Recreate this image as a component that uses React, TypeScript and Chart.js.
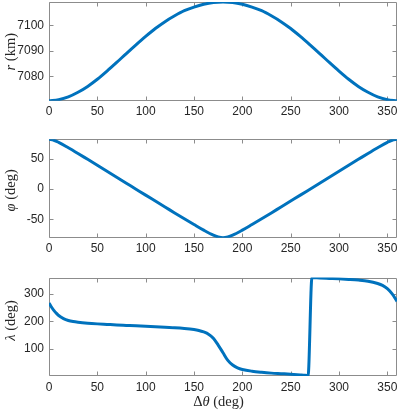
import React, { useEffect, useRef } from 'react';
import { Chart, registerables } from 'chart.js';

Chart.register(...registerables);

// ---------- data ----------
const thetaR = [0, 10, 20, 30, 40, 50, 60, 70, 80, 90, 100, 110, 120, 130, 140, 150, 160, 170, 180,
  190, 200, 210, 220, 230, 240, 250, 260, 270, 280, 290, 300, 310, 320, 330, 340, 350, 360];
const radius = [7070.4, 7070.8, 7071.9, 7073.7, 7076.0, 7078.8, 7082.0, 7085.4, 7088.9, 7092.3, 7095.6,
  7098.7, 7101.4, 7103.7, 7105.7, 7107.1, 7108.2, 7108.9, 7109.1, 7108.9, 7108.2, 7107.1, 7105.7, 7103.7,
  7101.4, 7098.7, 7095.6, 7092.3, 7088.9, 7085.4, 7082.0, 7078.8, 7076.0, 7073.7, 7071.9, 7070.8, 7070.4];

const thetaLat = [0, 5, 10, 20, 30, 40, 50, 60, 70, 80, 90, 100, 110, 120, 130, 140, 150, 160, 170, 175, 180,
  185, 190, 200, 210, 220, 230, 240, 250, 260, 270, 280, 290, 300, 310, 320, 330, 340, 350, 355, 360];
const latitude = [82.6, 81.1, 77.6, 68.7, 59.2, 49.4, 39.6, 29.7, 19.8, 9.9, 0, -9.9, -19.7, -29.5, -39.4,
  -49.1, -58.6, -67.9, -76.2, -79.1, -80.4, -79.1, -76.2, -67.9, -58.6, -49.1, -39.4, -29.5, -19.7, -9.9,
  0, 9.9, 19.8, 29.7, 39.6, 49.4, 59.2, 68.7, 77.6, 81.1, 82.6];

const thetaLon = [0, 2, 5, 8, 10, 15, 20, 25, 30, 40, 50, 60, 70, 80, 90, 100, 110, 120, 130, 140, 150,
  155, 160, 165, 170, 175, 180, 185, 190, 195, 200, 210, 220, 230, 240, 250, 260, 265, 268, 272, 280,
  290, 300, 310, 320, 330, 340, 345, 350, 355, 360];
const longitude = [267, 255, 240, 228, 221, 210, 203, 199, 196.5, 193, 190.5, 188.5, 186.5, 185, 183.5,
  181.5, 180, 178, 176.5, 174, 170, 166.5, 161, 153, 138, 113, 85, 57, 40, 30, 24, 17.5, 13.5, 10.5, 8.5,
  6.5, 4, 2.5, 1, 359.5, 358, 356.5, 355, 353, 350.5, 346.5, 338, 331, 319, 300, 273];

const xTicks = [0, 50, 100, 150, 200, 250, 300, 350];
const rTicks = [7080, 7090, 7100];
const latTicks = [-50, 0, 50];
const lonTicks = [100, 200, 300];

// ---------- styles ----------
const BLUE = '#0072BD';
const AXIS = '#8c8c8c';
const TEXT = '#262626';
const SANS = "'Liberation Sans', Arial, Helvetica, sans-serif";
const SERIF = "'Liberation Serif', 'Times New Roman', serif";
const W = 399;
const TICK_SIZE = 12;
const TITLE_SIZE = 14.5;

type Part = { text: string; italic?: boolean };

function drawRich(ctx: CanvasRenderingContext2D, parts: Part[], cx: number, cy: number, rotate: boolean, size: number) {
  ctx.save();
  ctx.translate(cx, cy);
  if (rotate) ctx.rotate(-Math.PI / 2);
  ctx.textBaseline = 'middle';
  ctx.textAlign = 'left';
  ctx.fillStyle = TEXT;
  const fonts = parts.map((p) => `${p.italic ? 'italic ' : ''}${size}px ${SERIF}`);
  const widths = parts.map((p, i) => {
    ctx.font = fonts[i];
    return ctx.measureText(p.text).width;
  });
  const total = widths.reduce((a, b) => a + b, 0);
  let x = -total / 2;
  parts.forEach((p, i) => {
    ctx.font = fonts[i];
    ctx.fillText(p.text, x, 0);
    x += widths[i];
  });
  ctx.restore();
}

const framePlugin = {
  id: 'matlabFrame',
  beforeDatasetsDraw(chart: any) {
    const { ctx, chartArea } = chart;
    const l = Math.round(chartArea.left) + 0.5;
    const r = Math.round(chartArea.right) - 0.5;
    const t = Math.round(chartArea.top) + 0.5;
    const b = Math.round(chartArea.bottom) - 0.5;
    const tl = 4;
    ctx.save();
    ctx.strokeStyle = AXIS;
    ctx.lineWidth = 1;
    ctx.beginPath();
    ctx.rect(l, t, r - l, b - t);
    const xs = chart.scales.x;
    for (const tk of xs.ticks) {
      const px = Math.round(xs.getPixelForValue(tk.value)) + 0.5;
      ctx.moveTo(px, b);
      ctx.lineTo(px, b - tl);
      ctx.moveTo(px, t);
      ctx.lineTo(px, t + tl);
    }
    const ys = chart.scales.y;
    for (const tk of ys.ticks) {
      const py = Math.round(ys.getPixelForValue(tk.value)) + 0.5;
      ctx.moveTo(l, py);
      ctx.lineTo(l + tl, py);
      ctx.moveTo(r, py);
      ctx.lineTo(r - tl, py);
    }
    ctx.stroke();
    ctx.restore();
  },
};

type PanelProps = {
  top: number;
  height: number;
  areaTop: number;
  areaBottom: number;
  xs: number[];
  ys: number[];
  yMin: number;
  yMax: number;
  yTicks: number[];
  yTitle: Part[];
  yTitleCy: number;
  xTitle?: Part[];
  xTitleCx?: number;
  xTitleCy?: number;
};

function Panel(props: PanelProps) {
  const ref = useRef<HTMLCanvasElement | null>(null);
  useEffect(() => {
    const canvas = ref.current;
    if (!canvas) return;
    const p = props;
    const titlePlugin = {
      id: 'richTitles',
      afterDraw(chart: any) {
        const ctx = chart.ctx;
        drawRich(ctx, p.yTitle, 11, p.yTitleCy, true, TITLE_SIZE);
        if (p.xTitle) drawRich(ctx, p.xTitle, p.xTitleCx as number, p.xTitleCy as number, false, TITLE_SIZE);
      },
    };
    const chart = new Chart(canvas, {
      type: 'line',
      data: {
        datasets: [
          {
            data: p.xs.map((x, i) => ({ x, y: p.ys[i] })),
            borderColor: BLUE,
            backgroundColor: BLUE,
            borderWidth: 3,
            pointRadius: 0,
            fill: false,
            cubicInterpolationMode: 'monotone',
          },
        ],
      },
      options: {
        responsive: false,
        animation: false,
        events: [],
        layout: { padding: { top: p.areaTop, right: 2, left: 0, bottom: 0 } },
        plugins: { legend: { display: false }, tooltip: { enabled: false } },
        scales: {
          x: {
            type: 'linear',
            min: 0,
            max: 360,
            grid: { display: false, drawTicks: false },
            border: { display: false },
            ticks: {
              padding: 4,
              color: TEXT,
              font: { family: SANS, size: TICK_SIZE },
              maxRotation: 0,
              autoSkip: false,
              callback: (v: any) => String(v),
            },
            afterBuildTicks: (s: any) => {
              s.ticks = xTicks.map((v) => ({ value: v }));
            },
            afterFit: (s: any) => {
              s.height = p.height - p.areaBottom;
              s.paddingLeft = 0;
              s.paddingRight = 0;
            },
          },
          y: {
            type: 'linear',
            min: p.yMin,
            max: p.yMax,
            grid: { display: false, drawTicks: false },
            border: { display: false },
            ticks: {
              padding: 5,
              color: TEXT,
              font: { family: SANS, size: TICK_SIZE },
              autoSkip: false,
              callback: (v: any) => String(v),
            },
            afterBuildTicks: (s: any) => {
              s.ticks = p.yTicks.map((v) => ({ value: v }));
            },
            afterFit: (s: any) => {
              s.width = 49;
              s.paddingTop = 0;
              s.paddingBottom = 0;
            },
          },
        },
      } as any,
      plugins: [framePlugin, titlePlugin],
    });
    return () => chart.destroy();
  }, []);
  return (
    <canvas
      ref={ref}
      width={W}
      height={props.height}
      style={{ position: 'absolute', left: 0, top: props.top, width: W, height: props.height, display: 'block' }}
    />
  );
}

export default function App() {
  return (
    <div style={{ position: 'fixed', left: 0, top: 0, width: W, height: 411, background: '#fff' }}>
      <Panel
        top={0}
        height={128}
        areaTop={2}
        areaBottom={100.7}
        xs={thetaR}
        ys={radius}
        yMin={7070.4}
        yMax={7109.1}
        yTicks={rTicks}
        yTitle={[{ text: 'r', italic: true }, { text: ' (km)' }]}
        yTitleCy={51.7}
      />
      <Panel
        top={128}
        height={136}
        areaTop={11.3}
        areaBottom={109.7}
        xs={thetaLat}
        ys={latitude}
        yMin={-80.4}
        yMax={82.6}
        yTicks={latTicks}
        yTitle={[{ text: 'φ', italic: true }, { text: ' (deg)' }]}
        yTitleCy={62.3}
      />
      <Panel
        top={264}
        height={147}
        areaTop={13.5}
        areaBottom={112}
        xs={thetaLon}
        ys={longitude}
        yMin={0}
        yMax={360}
        yTicks={lonTicks}
        yTitle={[{ text: 'λ', italic: true }, { text: ' (deg)' }]}
        yTitleCy={56.5}
        xTitle={[{ text: 'Δ' }, { text: 'θ', italic: true }, { text: ' (deg)' }]}
        xTitleCx={218.5}
        xTitleCy={138}
      />
    </div>
  );
}
